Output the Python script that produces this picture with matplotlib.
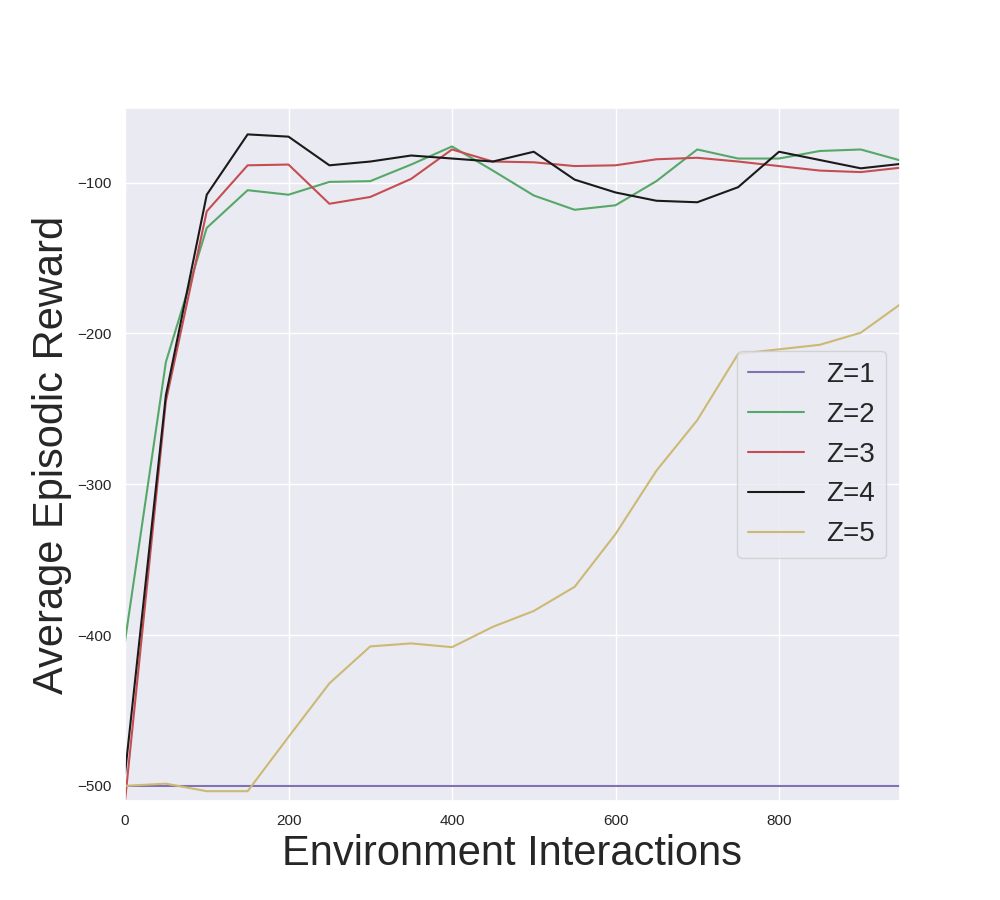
import matplotlib
matplotlib.use('Agg')
import matplotlib.pyplot as plt
import seaborn as sns
import numpy as np

steps = np.arange(0, 1000, 50)

z1 = [-500] * 20
z2 = [-404, -219, -130, -105, -108, -99.5, -99, -88, -76, -92,
      -108.5, -118, -115, -99, -78, -84, -84, -79, -78, -85.5]
z3 = [-510, -245, -119, -88.5, -88, -114, -109.5, -97.5, -78, -86,
      -86.5, -89, -88.5, -84.5, -83.5, -86, -89, -92, -93, -90]
z4 = [-492, -241, -108, -68, -69.5, -88.5, -86, -82, -84, -86,
      -79.5, -98, -106.5, -112, -113, -103, -79.5, -85, -90.5, -87.5]
z5 = [-500, -498.5, -503.5, -503.5, -467.5, -432, -407.5, -405.5, -408, -394.5,
      -384, -368, -333, -291, -257.5, -213.5, -210.5, -207.5, -199.5, -180]

labels = ['Z=1', 'Z=2', 'Z=3', 'Z=4', 'Z=5']
colors = ['#8172B3', '#55A868', '#C44E52', 'k', '#CCB974']

sns.set_theme(style='darkgrid')
plt.rcParams['font.family'] = ['Liberation Sans', 'DejaVu Sans']

fig, ax = plt.subplots(figsize=(10, 9), dpi=100)
for ys, lab, c in zip([z1, z2, z3, z4, z5], labels, colors):
    ax.plot(steps, ys, color=c, label=lab, linewidth=1.5)

ax.set_xlim(0, 948)
ax.set_ylim(-510, -50.5)
ax.set_xticks([0, 200, 400, 600, 800])
ax.set_yticks([-500, -400, -300, -200, -100])
ax.set_xlabel('Environment Interactions', fontsize=30)
ax.set_ylabel('Average Episodic Reward', fontsize=30)
ax.legend(loc='center right', fontsize=20)

plt.savefig('out.png')
